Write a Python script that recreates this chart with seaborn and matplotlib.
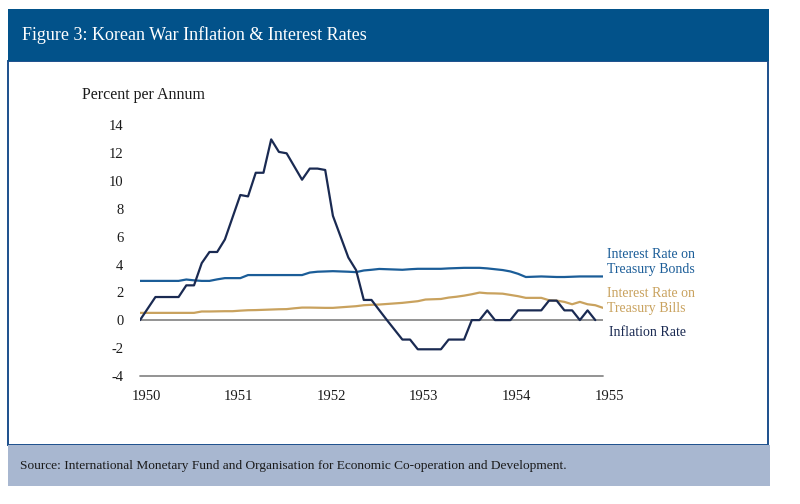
import numpy as np
import pandas as pd
import matplotlib
matplotlib.use("Agg")
import matplotlib.pyplot as plt
import matplotlib.transforms as mtransforms
from matplotlib.patches import Rectangle
import seaborn as sns

# monthly values, Jan 1950 onwards (percent per annum)
inflation = [0, 0.83, 1.66, 1.66, 1.66, 1.66, 2.5, 2.5, 4.1, 4.9, 4.9, 5.8,
             7.4, 9.0, 8.9, 10.6, 10.6, 13.0, 12.1, 12.0, 11.05, 10.1, 10.9, 10.9,
             10.8, 7.5, 6.0, 4.5, 3.6, 1.45, 1.45, 0.72, 0.0, -0.7, -1.4, -1.4,
             -2.1, -2.1, -2.1, -2.1, -1.4, -1.4, -1.4, 0, 0, 0.7, 0, 0,
             0, 0.7, 0.7, 0.7, 0.7, 1.4, 1.4, 0.7, 0.7, 0, 0.7, 0]
bonds = [2.82, 2.82, 2.82, 2.82, 2.82, 2.82, 2.92, 2.86, 2.82, 2.82, 2.93, 3.02,
         3.02, 3.02, 3.24, 3.24, 3.24, 3.24, 3.24, 3.24, 3.24, 3.24, 3.42, 3.48,
         3.5, 3.52, 3.5, 3.48, 3.45, 3.57, 3.62, 3.68, 3.66, 3.64, 3.62, 3.66,
         3.69, 3.69, 3.69, 3.69, 3.72, 3.74, 3.76, 3.76, 3.76, 3.72, 3.66, 3.6,
         3.5, 3.33, 3.1, 3.12, 3.14, 3.12, 3.1, 3.1, 3.12, 3.14, 3.14, 3.14, 3.14]
bills = [0.52, 0.52, 0.52, 0.52, 0.52, 0.52, 0.52, 0.52, 0.62, 0.62, 0.63, 0.64,
         0.64, 0.68, 0.71, 0.72, 0.74, 0.76, 0.78, 0.79, 0.85, 0.9, 0.9, 0.89,
         0.88, 0.88, 0.92, 0.96, 1.0, 1.07, 1.1, 1.12, 1.16, 1.2, 1.24, 1.3,
         1.36, 1.48, 1.5, 1.52, 1.62, 1.68, 1.76, 1.86, 1.98, 1.93, 1.92, 1.9,
         1.81, 1.72, 1.6, 1.6, 1.6, 1.43, 1.4, 1.31, 1.14, 1.31, 1.14, 1.07, 0.88]
years = ["1950", "1951", "1952", "1953", "1954", "1955"]
y_ticks = [-4, -2, 0, 2, 4, 6, 8, 10, 12, 14]

c_bonds = "#1b5d98"
c_bills = "#c9a25e"
c_infl = "#1a2a52"
c_banner = "#02528a"
c_source = "#a8b7d0"
c_grey = "#8a8a8a"

sns.set_style("white")
plt.rcParams["font.family"] = ["Liberation Serif", "DejaVu Serif"]

W, H = 800, 504
fig = plt.figure(figsize=(W / 100, H / 100), dpi=100)


def fx(px):
    return px / W


def fy(py):
    return 1 - py / H


# frame, banner, source band
fig.patches.append(Rectangle((fx(8), fy(445)), fx(760), 384 / H, transform=fig.transFigure,
                             facecolor="white", edgecolor="#1c4f8c", lw=1.4, zorder=-2))
fig.patches.append(Rectangle((fx(8), fy(61)), fx(761), 52 / H, transform=fig.transFigure,
                             facecolor=c_banner, edgecolor="none", zorder=-1))
fig.patches.append(Rectangle((fx(8), fy(486)), fx(762), 41 / H, transform=fig.transFigure,
                             facecolor=c_source, edgecolor="none", zorder=-1))
fig.text(fx(22), fy(35), "Figure 3: Korean War Inflation & Interest Rates", color="white",
         fontsize=13, va="center", ha="left")
fig.text(fx(20), fy(466), "Source: International Monetary Fund and Organisation for Economic "
         "Co-operation and Development.", color="#1a1a1a", fontsize=9.6, va="center", ha="left")
fig.text(fx(82), fy(95), "Percent per Annum", color="#1a1a1a", fontsize=11.5, va="center", ha="left")

# plotting area
top_px, bot_px = 125.5, 375.7
ax = fig.add_axes([fx(140), fy(bot_px), fx(603 - 140), (bot_px - top_px) / H])
ax.set_facecolor("none")
ax.set_zorder(2)

months_long = np.arange(len(bonds))
months_infl = np.arange(len(inflation))
df = pd.DataFrame({"month": months_long, "bonds": bonds, "bills": bills})
di = pd.DataFrame({"month": months_infl, "inflation": inflation})

ax.axhline(0, color=c_grey, lw=1.3, zorder=1)
ax.axhline(-4, color=c_grey, lw=1.3, zorder=1, clip_on=False)
sns.lineplot(data=df, x="month", y="bonds", ax=ax, color=c_bonds, lw=1.6, zorder=3)
sns.lineplot(data=df, x="month", y="bills", ax=ax, color=c_bills, lw=1.6, zorder=3)
sns.lineplot(data=di, x="month", y="inflation", ax=ax, color=c_infl, lw=1.6, zorder=4)

ax.set_xlim(0, 60)
ax.set_ylim(-4, 14)
ax.set_xticks(np.arange(0, 61, 12))
ax.set_xticklabels(years)
ax.set_yticks(y_ticks)
ax.set_yticklabels([str(v) for v in y_ticks])
ax.tick_params(axis="both", length=0, labelsize=10.5, colors="#1a1a1a")
ax.tick_params(axis="y", pad=12)
ax.tick_params(axis="x", pad=10)
for lab in ax.get_xticklabels():
    lab.set_transform(lab.get_transform() + mtransforms.ScaledTranslation(6 / 100, 0, fig.dpi_scale_trans))
ax.set_xlabel("")
ax.set_ylabel("")
for s in ax.spines.values():
    s.set_visible(False)

# direct labels on the right
fig.text(fx(607), fy(262), "Interest Rate on\nTreasury Bonds", color=c_bonds, fontsize=10,
         va="center", ha="left", linespacing=1.2)
fig.text(fx(607), fy(301), "Interest Rate on\nTreasury Bills", color=c_bills, fontsize=10,
         va="center", ha="left", linespacing=1.2)
fig.text(fx(609), fy(332), "Inflation Rate", color=c_infl, fontsize=10, va="center", ha="left")

fig.savefig("out.png", dpi=100)
